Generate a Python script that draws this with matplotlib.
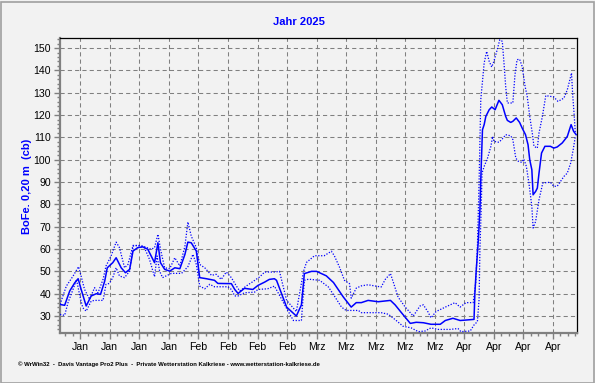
import matplotlib
matplotlib.use("Agg")
import matplotlib.pyplot as plt
from matplotlib.ticker import FixedLocator, MultipleLocator
from matplotlib.patches import Rectangle

# Bodenfeuchte 0,20 m (cb) - Tage seit Achsenbeginn (1. Jan)
tage_mittel = [0.0, 1.1, 2.3, 3.5, 4.3, 5.0, 6.2, 7.4, 8.6, 9.6, 10.6, 11.2, 12.5, 13.3,
               14.5, 15.5, 16.5, 17.3, 18.4, 19.6, 20.8, 22.4, 23.2, 23.8, 24.8, 26.0,
               27.2, 28.4, 29.6, 30.3, 31.1, 32.3, 33.1, 34.7, 36.6, 37.4, 40.6, 41.4,
               42.2, 43.7, 45.7, 46.9, 48.5, 49.6, 50.8, 51.3, 53.7, 56.0, 57.2, 57.9,
               59.6, 60.8, 63.1, 64.8, 67.1, 69.0, 70.2, 71.4, 73.0, 75.4, 78.3, 79.4,
               80.9, 83.0, 84.4, 86.1, 87.9, 90.1, 91.3, 93.1, 94.8, 96.2, 98.1, 98.3,
               98.6, 99.1, 99.5, 99.7, 100.1, 100.5, 100.9, 101.7, 102.3, 103.1, 104.0,
               104.8, 105.6, 106.0, 106.8, 107.3, 108.1, 108.9, 109.5, 110.3, 110.9,
               111.3, 111.8, 112.1, 112.7, 113.1, 113.5, 114.1, 114.9, 116.2, 117.0,
               117.8, 119.0, 120.2, 121.1, 121.7, 122.3]
mittel = [35.2, 34.8, 41.2, 44.9, 46.7, 42.0, 34.5, 39.0, 40.0, 39.7, 45.7, 51.6, 53.9, 56.1,
          51.6, 49.4, 50.9, 59.1, 60.6, 61.0, 59.9, 53.9, 62.8, 53.9, 50.9, 50.1,
          51.6, 51.2, 57.6, 63.1, 62.8, 59.1, 47.2, 46.7, 46.0, 44.6, 44.5, 41.9,
          40.1, 42.4, 41.9, 43.7, 45.2, 46.4, 46.7, 46.0, 34.0, 30.0, 35.0, 49.0,
          50.0, 50.0, 48.0, 45.0, 38.6, 34.0, 36.0, 36.0, 37.0, 36.4, 37.0, 35.0,
          31.5, 26.7, 27.2, 27.0, 26.3, 26.3, 28.0, 29.0, 28.0, 28.2, 28.5, 40.0,
          49.8, 63.3, 77.5, 91.0, 113.4, 115.7, 119.4, 122.4, 123.6, 122.4, 126.6,
          124.6, 119.4, 117.6, 116.7, 117.2, 118.7, 116.7, 114.2, 111.2, 106.7,
          100.0, 95.5, 84.3, 85.8, 87.3, 94.0, 103.0, 106.0, 106.0, 105.2,
          105.7, 107.5, 110.4, 115.7, 112.7, 111.2]

tage_max = [0.0, 1.5, 3.1, 4.4, 5.0, 5.8, 7.0, 8.2, 9.0, 10.2, 10.9, 12.1, 13.3, 14.1,
            15.3, 16.1, 17.3, 19.2, 21.6, 22.4, 23.2, 23.9, 24.8, 26.0, 27.2, 28.4,
            29.6, 30.3, 31.1, 32.3, 33.1, 34.3, 35.9, 37.0, 38.2, 39.4, 40.6, 41.8,
            42.6, 44.1, 45.3, 47.3, 48.5, 50.8, 52.0, 53.7, 56.0, 57.7, 58.4, 60.3,
            62.6, 64.3, 65.0, 66.2, 67.4, 68.6, 69.0, 70.2, 71.4, 73.0, 74.5, 76.1,
            77.1, 78.3, 79.0, 80.1, 81.8, 83.7, 85.3, 86.1, 87.2, 87.9, 89.1, 91.3,
            93.6, 94.8, 96.2, 97.9, 98.5, 98.9, 99.3, 99.7, 100.1, 100.5, 101.1,
            101.7, 102.3, 102.8, 103.6, 104.2, 104.8, 105.2, 105.6, 106.0, 107.3,
            107.8, 108.3, 108.9, 109.5, 110.2, 110.7, 111.3, 111.9, 112.3, 113.1,
            113.5, 114.3, 115.1, 117.0, 118.0, 119.4, 120.2, 120.7, 121.2, 121.5,
            121.8, 122.1]
maximum = [35.2, 43.4, 47.9, 52.1, 47.9, 42.0, 37.5, 42.7, 40.4, 46.4, 52.4, 56.9, 63.1, 60.6,
           51.6, 53.1, 61.6, 61.6, 59.9, 60.6, 66.6, 59.1, 51.6, 51.2, 56.1, 52.4,
           61.3, 72.1, 65.8, 60.6, 53.1, 51.6, 48.2, 48.7, 46.4, 49.7, 47.2, 43.4,
           41.2, 43.4, 44.9, 47.5, 49.7, 49.7, 50.0, 37.0, 32.0, 50.0, 54.0, 57.0,
           57.0, 59.0, 57.0, 52.0, 46.0, 44.5, 38.0, 42.5, 43.5, 44.0, 43.5, 43.0,
           46.5, 49.0, 45.0, 38.5, 34.0, 30.0, 34.5, 35.0, 31.8, 29.2, 32.0, 34.0,
           36.0, 34.0, 36.0, 36.0, 45.0, 61.0, 90.0, 126.9, 135.0, 143.3, 148.5,
           144.0, 141.5, 144.0, 149.3, 153.7, 153.0, 143.3, 132.8, 125.4, 125.4,
           138.0, 144.8, 145.0, 141.8, 132.8, 128.4, 119.4, 112.0, 106.0, 105.2,
           112.0, 119.4, 128.7, 128.1, 126.1, 127.6, 131.3, 135.0, 138.8, 128.4,
           120.9, 112.0]

tage_min = [0.0, 1.1, 1.9, 3.1, 3.9, 4.7, 5.4, 6.2, 7.4, 8.2, 10.2, 10.9, 11.7, 12.5,
            13.3, 14.1, 15.3, 16.5, 17.3, 18.4, 20.0, 21.2, 22.4, 23.0, 23.6, 24.3,
            26.4, 28.8, 30.3, 31.5, 32.3, 33.1, 34.3, 35.5, 36.6, 39.8, 40.6, 41.4,
            42.2, 43.7, 46.1, 46.9, 49.2, 50.8, 51.8, 54.1, 55.3, 57.2, 57.9, 58.9,
            61.5, 63.6, 65.0, 66.7, 67.8, 70.7, 71.4, 76.1, 77.8, 79.4, 81.3, 83.2,
            84.9, 86.5, 87.9, 89.6, 92.4, 94.3, 95.0, 97.2, 98.1, 98.9, 99.3, 99.5,
            99.8, 100.0, 100.5, 101.3, 102.1, 102.5, 102.8, 104.0, 105.0, 105.6,
            106.8, 107.3, 108.0, 108.6, 109.4, 109.9, 110.5, 111.1, 111.8, 112.1,
            112.7, 113.5, 114.4, 116.2, 117.0, 117.8, 118.6, 119.4, 120.2, 121.0,
            121.6, 122.1]
minimum = [30.7, 30.3, 36.0, 42.0, 46.4, 39.0, 33.7, 32.2, 36.7, 37.0, 37.0, 44.2, 44.6, 47.2,
           51.6, 47.9, 47.2, 50.1, 61.3, 61.6, 60.6, 55.4, 47.6, 56.9, 50.1, 47.2,
           49.1, 49.1, 52.1, 57.6, 53.1, 43.4, 42.2, 44.2, 43.1, 43.1, 41.9, 39.0,
           39.0, 40.4, 40.7, 41.9, 42.2, 43.4, 40.0, 32.0, 28.0, 28.0, 46.0, 46.5,
           46.0, 43.0, 39.0, 34.0, 32.5, 32.5, 31.5, 31.5, 30.8, 28.4, 25.4, 24.7,
           23.0, 23.3, 24.7, 24.0, 24.0, 24.4, 23.0, 23.3, 26.0, 27.5, 37.5, 60.0,
           78.0, 94.0, 97.0, 100.7, 106.0, 110.4, 108.2, 107.8, 109.7, 111.2,
           110.7, 109.0, 100.7, 99.3, 98.8, 100.3, 97.0, 89.6, 79.1, 69.4,
           72.4, 82.1, 89.6, 89.9, 88.1, 88.1, 90.3, 92.5, 94.0, 98.5,
           104.5, 110.4]

# Wochen-Ticks
tick_tage = [4.8 + 7 * i for i in range(17)]
tick_namen = ['Jan', 'Jan', 'Jan', 'Jan', 'Feb', 'Feb', 'Feb', 'Feb',
              'Mrz', 'Mrz', 'Mrz', 'Mrz', 'Mrz', 'Apr', 'Apr', 'Apr', 'Apr']

plt.rcParams['font.family'] = ['Liberation Sans', 'DejaVu Sans']
bg = '#f2f2f2'
grau = '#808080'
blau = '#0000ff'

fig = plt.figure(figsize=(5.95, 3.83), dpi=100, facecolor=bg)
ax = fig.add_axes([60 / 595, 1 - 333 / 383, 517 / 595, 295 / 383])
ax.set_facecolor(bg)

ax.plot(tage_max, maximum, color=blau, lw=0.9, ls=(0, (1, 1.3)), zorder=3)
ax.plot(tage_min, minimum, color=blau, lw=0.9, ls=(0, (1, 1.3)), zorder=3)
ax.plot(tage_mittel, mittel, color=blau, lw=1.1, zorder=4)

ax.set_xlim(0, 122.5)
ax.set_ylim(22.4, 154.5)

ax.xaxis.set_major_locator(FixedLocator(tick_tage))
ax.xaxis.set_minor_locator(FixedLocator([4.8 + 1.75 * i for i in range(-2, 68)]))
ax.set_xticklabels(tick_namen)
ax.yaxis.set_major_locator(MultipleLocator(10))
ax.yaxis.set_minor_locator(MultipleLocator(2))

ax.grid(True, which='major', color=grau, lw=0.75, ls=(0, (4, 3)))
ax.tick_params(which='major', length=4, width=1, color=grau, labelsize=7.6, pad=2.5)
ax.tick_params(which='minor', length=2, width=1, color=grau)

for s in ['left', 'bottom']:
    ax.spines[s].set_color(grau)
    ax.spines[s].set_linewidth(1.6)
for s in ['top', 'right']:
    ax.spines[s].set_color('black')
    ax.spines[s].set_linewidth(0.9)

fig.text(299 / 595, 1 - 22 / 383, 'Jahr 2025', color=blau, fontsize=8, fontweight='bold',
         ha='center', va='center')
fig.text(27 / 595, 1 - 186 / 383, 'BoFe. 0,20 m  (cb)', color=blau, fontsize=8,
         fontweight='bold', rotation=90, ha='center', va='center')
fig.text(18 / 595, 1 - 364 / 383,
         '© WrWin32  -  Davis Vantage Pro2 Plus  -  Private Wetterstation Kalkriese - www.wetterstation-kalkriese.de',
         fontsize=4.35, fontweight='bold', ha='left', va='center')

# Rahmen
fig.add_artist(Rectangle((0.5 / 595, 0.5 / 383), 593 / 595, 381 / 383, transform=fig.transFigure,
                         fill=False, edgecolor='#a0a0a0', lw=1.2))

fig.savefig('out.png', dpi=100, facecolor=bg)
